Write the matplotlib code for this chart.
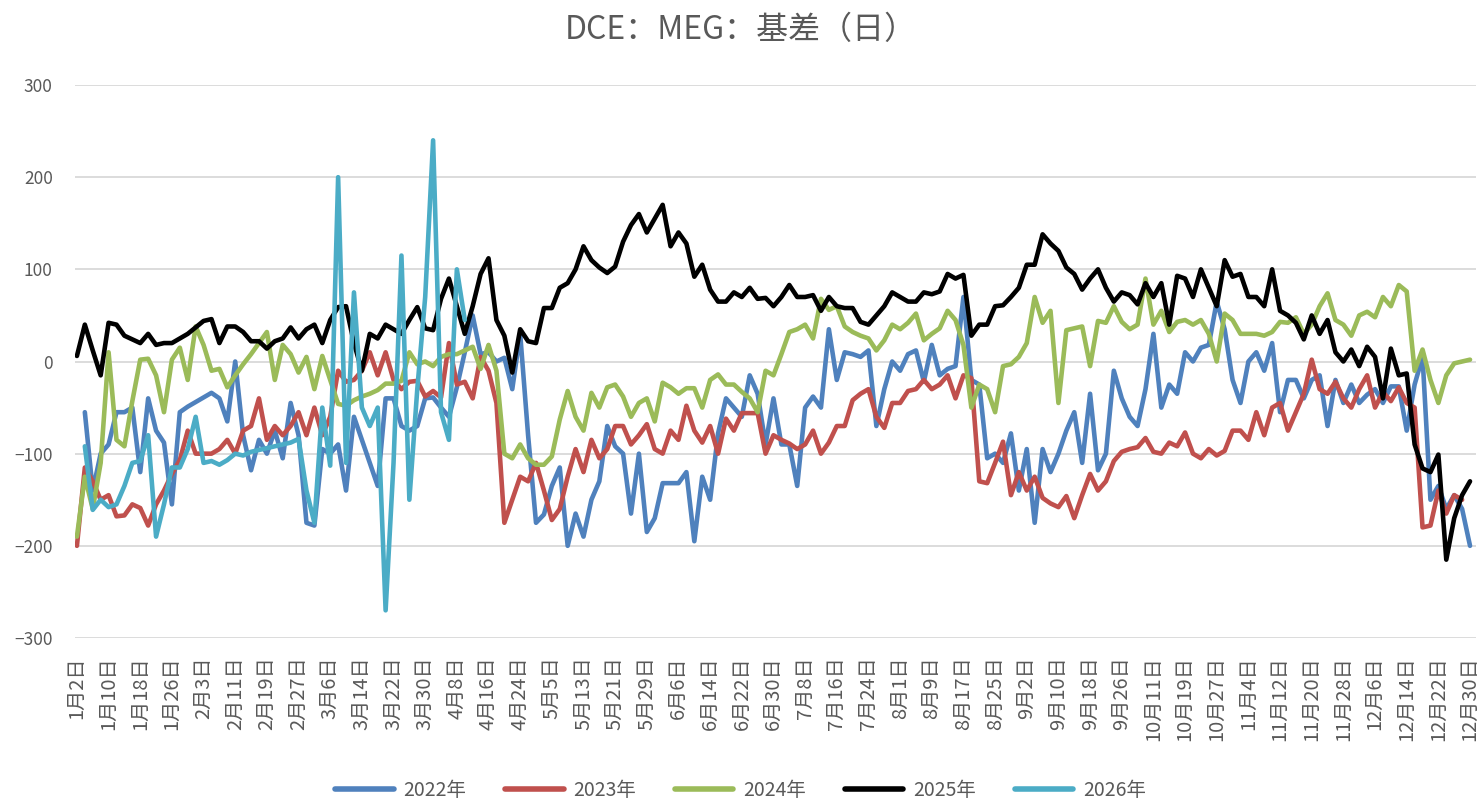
import numpy as np
import pandas as pd
import matplotlib
matplotlib.use('Agg')
import matplotlib.pyplot as plt
from matplotlib.lines import Line2D

# 字体：中文用思源黑体，缺字时退回 DejaVu
plt.rcParams['font.family'] = ['Noto Sans CJK SC', 'DejaVu Sans']

# 横轴：各年交易日的并集（全部休市的日子不出现）
holidays = ['01-01', '04-05', '05-01', '05-02', '05-03',
            '10-01', '10-02', '10-03', '10-04', '10-05', '10-06', '10-07']
days = pd.date_range('2024-01-01', '2024-12-31')
days = days[~days.strftime('%m-%d').isin(holidays)]
categories = [f'{d.month}月{d.day}日' for d in days]

# 基差数据（元/吨），每隔一个交易日取一个值，None 表示无数据
basis_2022 = [
    None, -55, -140, -100, -90, -55, -55, -50,
    -120, -40, -75, -88, -155, -55, -49, -44,
    -39, -34, -40, -65, 0, -80, -118, -85,
    -100, -75, -105, -45, -80, -175, -178, -95,
    -100, -90, -140, -60, -85, -110, -135, -40,
    -40, -70, -75, -70, -40, -39, -50, -60,
    -28, 10, 50, 8, 10, 0, 4, -30,
    30, -80, -175, -166, -135, -115, -200, -165,
    -190, -150, -130, -70, -92, -100, -165, -100,
    -185, -170, -132, -132, -132, -120, -195, -125,
    -150, -78, -40, -50, -60, -15, -35, -90,
    -40, -90, -90, -135, -50, -38, -50, 35,
    -20, 10, 8, 5, 12, -70, -30, 0,
    -10, 8, 12, -22, 18, -15, -8, -5,
    70, -20, -25, -105, -100, -110, -78, -140,
    -95, -175, -95, -120, -100, -75, -55, -110,
    -35, -118, -100, -10, -40, -60, -70, -30,
    30, -50, -25, -35, 10, 0, 15, 18,
    65, 35, -20, -45, 0, 10, -10, 20,
    -55, -20, -20, -40, -20, -15, -70, -20,
    -45, -25, -45, -36, -30, -45, -27, -27,
    -75, -25, 5, -150, -135, -160, -145, -160,
    -200,
]
basis_2023 = [
    -200, -115, -130, -150, -145, -168, -167, -155,
    -159, -178, -155, -140, -122, -107, -75, -100,
    -100, -100, -95, -85, -100, -75, -70, -40,
    -85, -70, -80, -70, -55, -80, -50, -80,
    -60, -10, -22, -20, -10, 10, -15, 10,
    -20, -30, -22, -21, -38, -32, -39, 20,
    -25, -22, -40, 5, -10, -45, -175, -150,
    -125, -130, -110, -140, -172, -160, -125, -95,
    -120, -85, -105, -95, -70, -70, -90, -80,
    -68, -95, -100, -75, -85, -48, -75, -88,
    -70, -100, -62, -75, -56, -56, -56, -100,
    -80, -85, -89, -95, -90, -75, -100, -88,
    -70, -70, -42, -35, -30, -60, -72, -45,
    -45, -32, -30, -20, -30, -25, -15, -40,
    -15, -18, -130, -132, -110, -87, -145, -120,
    -140, -125, -148, -154, -158, -146, -170, -145,
    -122, -140, -130, -108, -98, -95, -93, -83,
    -98, -100, -88, -92, -77, -100, -105, -95,
    -102, -97, -75, -75, -85, -55, -80, -50,
    -45, -75, -55, -35, 2, -30, -35, -22,
    -40, -50, -30, -15, -50, -33, -43, -28,
    -45, -50, -180, -178, -140, -165, -145, -150,
    None,
]
basis_2024 = [
    -190, -125, -160, -110, 10, -85, -92, -43,
    2, 3, -15, -55, 2, 15, -20, 38,
    18, -10, -8, -28, -15, -3, 8, 20,
    32, -20, 18, 8, -12, 5, -30, 6,
    -20, -46, -48, -42, -38, -35, -31, -24,
    -24, -21, 10, -3, 0, -5, 5, 8,
    8, 12, 16, -8, 18, -10, -100, -105,
    -90, -105, -112, -112, -103, -63, -32, -60,
    -75, -34, -50, -28, -25, -38, -60, -45,
    -40, -65, -23, -28, -35, -29, -29, -50,
    -20, -14, -25, -25, -33, -40, -55, -10,
    -15, 8, 32, 35, 40, 25, 68, 56,
    60, 38, 32, 28, 25, 12, 23, 40,
    35, 42, 52, 23, 30, 36, 55, 45,
    18, -50, -25, -30, -55, -5, -3, 5,
    20, 70, 42, 55, -45, 34, 36, 38,
    -5, 44, 42, 60, 43, 35, 40, 90,
    40, 55, 32, 43, 45, 40, 45, 30,
    0, 52, 45, 30, 30, 30, 28, 32,
    43, 42, 48, 30, 40, 60, 74, 45,
    40, 28, 50, 54, 48, 70, 60, 83,
    76, -10, 13, -20, -45, -15, -2, 0,
    2,
]
basis_2025 = [
    6, 40, 12, -15, 42, 40, 28, 24,
    20, 30, 18, 20, 20, 25, 30, 37,
    44, 46, 20, 38, 38, 32, 22, 22,
    14, 22, 25, 37, 25, 35, 40, 20,
    45, 59, 60, 20, -10, 30, 25, 40,
    35, 30, 45, 59, 36, 34, 68, 90,
    60, 30, 60, 95, 112, 45, 28, -12,
    35, 22, 20, 58, 58, 80, 85, 100,
    125, 110, 102, 96, 103, 130, 148, 160,
    140, 155, 170, 125, 140, 128, 92, 105,
    78, 65, 65, 75, 70, 80, 68, 69,
    60, 70, 83, 70, 70, 72, 55, 70,
    60, 58, 58, 43, 40, 50, 60, 75,
    70, 65, 65, 75, 73, 76, 95, 90,
    94, 28, 40, 40, 60, 61, 70, 80,
    105, 105, 138, 128, 120, 102, 95, 78,
    90, 100, 80, 65, 75, 72, 62, 85,
    70, 85, 40, 93, 90, 70, 100, 80,
    60, 110, 92, 95, 70, 70, 60, 100,
    55, 50, 42, 24, 50, 30, 45, 10,
    0, 13, -5, 16, 5, -40, 14, -15,
    -13, -90, -116, -120, -101, -215, -170, -145,
    -130,
]
basis_2026 = [
    None, -92, -161, -150, -158, -155, -135, -110,
    -108, -80, -190, -155, -115, -115, -95, -60,
    -110, -108, -112, -107, -100, -102, -98, -96,
    -94, -92, -90, -88, -84, -140, -175, -50,
    -113, 200, -110, 75, -50, -70, -50, -270,
    -110, 115, -150, -30, 70, 240, -55, -85,
    100, 45,
]
basis_2026 = basis_2026 + [None] * (len(basis_2025) - len(basis_2026))

series = [
    ('2022年', basis_2022, '#4F81BD'),
    ('2023年', basis_2023, '#C0504D'),
    ('2024年', basis_2024, '#9BBB59'),
    ('2025年', basis_2025, '#000000'),
    ('2026年', basis_2026, '#4BACC6'),
]

text_color = '#595959'

fig = plt.figure(figsize=(14.81, 8.02), dpi=100)
ax = fig.add_axes([0.0506, 0.2045, 0.946, 0.6895])

pos = np.arange(len(categories))
xs = pos[::2]
for name, vals, color in series:
    v = np.array([np.nan if a is None else a for a in vals], dtype=float)
    ok = ~np.isnan(v)
    ax.plot(xs[ok], v[ok], color=color, lw=3.3, label=name,
            solid_joinstyle='round', solid_capstyle='round')

ax.set_xlim(-0.5, len(categories) - 0.5)
ax.set_ylim(-300, 300)
ax.set_yticks(range(-300, 301, 100))
ax.set_xticks(pos[::8])
ax.set_xticklabels([categories[i] for i in pos[::8]], rotation=90)

ax.grid(axis='y', color='#D9D9D9', lw=1.3)
ax.grid(axis='x', visible=False)
ax.set_axisbelow(True)
for s in ax.spines.values():
    s.set_visible(False)
ax.tick_params(length=0, colors=text_color, labelsize=12.5)
ax.tick_params(axis='x', pad=13, labelsize=14.5)
ax.tick_params(axis='y', pad=16)

fig.text(0.5, 1 - 30 / 802, 'DCE：MEG：基差（日）', ha='center', va='center',
         fontsize=23, color=text_color)

handles = [Line2D([0], [0], color=c, lw=4, solid_capstyle='round') for _, _, c in series]
leg = fig.legend(handles, [n for n, _, _ in series], loc='lower center',
                 bbox_to_anchor=(0.5, -0.02), ncol=5, frameon=False, fontsize=14,
                 handlelength=3.0, handletextpad=0.5, columnspacing=2.0)
for t in leg.get_texts():
    t.set_color(text_color)

fig.savefig('out.png', dpi=100)
